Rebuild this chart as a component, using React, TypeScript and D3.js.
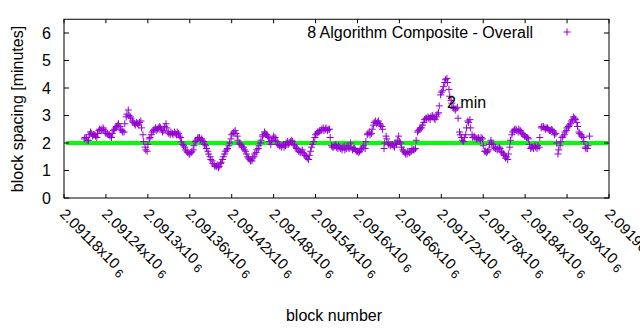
import React from "react";
import * as d3 from "d3";

const W = 640;
const H = 330;

const startBlock = 2091209;
const blockStep = 3;

// readings at blocks startBlock + 3*i
const spacing: number[] = [
  2.15, 2.2, 2.1, 2.4, 2.25, 2.3, 2.2, 2.45, 2.5, 2.55,
  2.4, 2.35, 2.3, 2.2, 2.45, 2.55, 2.65, 2.6, 2.45, 2.4,
  2.95, 3.2, 2.95, 2.8, 2.7, 2.75, 2.65, 2.8, 2.3, 1.85,
  1.7, 2.15, 2.3, 2.45, 2.55, 2.5, 2.6, 2.5, 2.45, 2.7,
  2.4, 2.3, 2.35, 2.4, 2.3, 2.35, 2.2, 1.95, 1.85, 1.7,
  1.6, 1.65, 1.75, 2.05, 2.15, 2.2, 2.15, 2.05, 1.9, 1.7,
  1.5, 1.35, 1.2, 1.15, 1.1, 1.25, 1.4, 1.6, 1.75, 1.9,
  2.15, 2.35, 2.45, 2.25, 2.0, 1.9, 1.85, 1.7, 1.5, 1.4,
  1.35, 1.5, 1.65, 1.8, 2.0, 2.25, 2.4, 2.3, 2.2, 1.95,
  2.15, 2.2, 2.05, 1.9, 1.85, 1.95, 1.9, 2.05, 2.0, 2.1,
  1.95, 1.85, 1.75, 1.65, 1.75, 1.6, 1.5, 1.4, 1.7, 1.95,
  2.2, 2.35, 2.4, 2.45, 2.55, 2.5, 2.45, 2.5, 1.9, 1.85,
  1.95, 1.8, 1.85, 1.75, 1.9, 1.8, 1.85, 2.0, 1.75, 1.8,
  1.7, 1.65, 1.75, 1.85, 1.8, 2.3, 2.4, 2.35, 2.65, 2.8,
  2.75, 2.7, 2.6, 1.8, 2.25, 2.0, 1.9, 1.95, 1.85, 1.95,
  2.25, 2.0, 1.75, 1.65, 1.6, 1.65, 1.7, 1.75, 1.8, 2.4,
  2.5, 2.55, 2.75, 2.9, 2.95, 2.85, 3.0, 2.9, 2.95, 3.1,
  3.75, 3.9, 4.2, 4.35, 3.95, 3.55, 3.3, 3.2, 3.3, 2.4,
  2.2, 2.05, 2.3, 2.8, 2.85, 2.3, 2.25, 2.15, 2.2, 2.1,
  2.15, 1.7, 1.65, 1.75, 2.1, 1.95, 1.8, 1.75, 1.85, 1.7,
  1.6, 1.45, 1.4, 1.85, 2.3, 2.45, 2.5, 2.4, 2.45, 2.35,
  2.25, 2.2, 2.15, 1.8, 1.85, 1.9, 1.8, 1.85, 2.55, 2.6,
  2.5, 2.55, 2.45, 2.5, 2.4, 2.35, 1.6, 1.9, 2.2, 2.3,
  2.45, 2.6, 2.7, 2.85, 2.9, 2.75, 2.4, 2.3, 2.2, 1.85,
  1.8, 2.25,
];

// readings at the in-between blocks startBlock + 1 + 3*i
const spacingMid: number[] = [
  2.2, 2.1, 2.3, 2.35, 2.3, 2.25, 2.35, 2.5, 2.45, 2.5,
  2.35, 2.3, 2.25, 2.35, 2.5, 2.6, 2.7, 2.5, 2.4, 2.7,
  3.05, 3.0, 2.9, 2.75, 2.65, 2.7, 2.75, 2.55, 2.05, 1.75,
  1.95, 2.2, 2.4, 2.5, 2.45, 2.55, 2.55, 2.4, 2.6, 2.55,
  2.35, 2.4, 2.3, 2.35, 2.4, 2.25, 2.05, 1.9, 1.75, 1.65,
  1.6, 1.7, 1.9, 2.1, 2.2, 2.1, 2.1, 1.95, 1.8, 1.6,
  1.4, 1.25, 1.15, 1.2, 1.15, 1.3, 1.5, 1.7, 1.8, 2.0,
  2.3, 2.4, 2.35, 2.1, 1.95, 1.85, 1.75, 1.6, 1.45, 1.35,
  1.45, 1.6, 1.75, 1.9, 2.1, 2.3, 2.35, 2.25, 2.05, 2.1,
  2.25, 2.1, 1.95, 1.9, 1.9, 1.85, 2.0, 1.95, 2.05, 2.05,
  1.9, 1.8, 1.7, 1.7, 1.65, 1.55, 1.45, 1.55, 1.85, 2.05,
  2.3, 2.4, 2.45, 2.5, 2.45, 2.55, 2.5, 2.2, 1.85, 1.9,
  1.85, 1.9, 1.8, 1.85, 1.75, 1.9, 1.8, 1.85, 1.8, 1.75,
  1.7, 1.7, 1.8, 1.9, 2.05, 2.35, 2.3, 2.5, 2.75, 2.7,
  2.8, 2.65, 2.5, 2.0, 2.15, 1.95, 1.95, 1.9, 2.0, 2.1,
  2.05, 1.85, 1.7, 1.6, 1.7, 1.65, 1.8, 1.75, 2.1, 2.45,
  2.55, 2.65, 2.85, 2.9, 2.9, 2.95, 2.95, 2.85, 3.05, 3.35,
  3.85, 4.05, 4.3, 4.2, 3.7, 3.45, 3.25, 3.25, 2.9, 2.3,
  2.1, 2.2, 2.55, 2.75, 2.55, 2.2, 2.2, 2.15, 2.15, 2.2,
  1.9, 1.7, 1.7, 1.95, 2.0, 1.85, 1.8, 1.8, 1.8, 1.65,
  1.55, 1.5, 1.6, 2.1, 2.4, 2.5, 2.45, 2.5, 2.4, 2.3,
  2.25, 2.2, 1.95, 1.85, 1.8, 1.85, 1.9, 2.2, 2.6, 2.55,
  2.55, 2.5, 2.45, 2.45, 2.3, 2.0, 1.75, 2.05, 2.25, 2.4,
  2.55, 2.65, 2.8, 2.95, 2.85, 2.6, 2.35, 2.25, 2.05, 1.8,
  1.9,
];

const xTickValues: number[] = [
  2091180, 2091240, 2091300, 2091360, 2091420, 2091480, 2091540,
  2091600, 2091660, 2091720, 2091780, 2091840, 2091900, 2091960,
];
const xTickLabels: string[] = [
  "2.09118", "2.09124", "2.0913", "2.09136", "2.09142", "2.09148", "2.09154",
  "2.0916", "2.09166", "2.09172", "2.09178", "2.09184", "2.0919", "2.09196",
];
const yTickValues: number[] = [0, 1, 2, 3, 4, 5, 6];
const targetLine = 2;
const seriesName = "8 Algorithm Composite - Overall";
const annotation = "2 min";

const FONT = "'Liberation Sans', Arial, sans-serif";
const PURPLE = "#9400d3";

export default function App() {
  const left = 64;
  const right = 609;
  const top = 19.25;
  const bottom = 198;

  const x = d3.scaleLinear().domain([2091180, 2091960]).range([left, right]);
  const y = d3.scaleLinear().domain([0, 6.5]).range([bottom, top]);

  const pts = [
    ...spacing.map((v, i) => ({ b: startBlock + i * blockStep, v })),
    ...spacingMid.map((v, i) => ({ b: startBlock + 1 + i * blockStep, v })),
  ];
  const plus = "M-3.5,0H3.5M0,-3.5V3.5";

  return (
    <svg
      width={W}
      height={H}
      style={{ position: "absolute", left: 0, top: 0, background: "#fff" }}
      fontFamily={FONT}
    >
      <rect x={0} y={0} width={W} height={H} fill="#fff" />
      {/* target line */}
      <line
        x1={x(2091180) + 2}
        x2={x(2091960) - 1}
        y1={y(targetLine)}
        y2={y(targetLine)}
        stroke="#00ff00"
        strokeWidth={4}
      />
      {/* points */}
      <g stroke={PURPLE} strokeWidth={1} fill="none">
        {pts.map((p, i) => (
          <path key={i} d={plus} transform={`translate(${x(p.b)},${y(p.v)})`} />
        ))}
      </g>
      {/* border */}
      <rect
        x={left}
        y={top}
        width={right - left}
        height={bottom - top}
        fill="none"
        stroke="#000"
        strokeWidth={1}
      />
      {/* y ticks */}
      {yTickValues.map((t) => (
        <g key={"y" + t}>
          <line x1={left} x2={left + 5} y1={y(t)} y2={y(t)} stroke="#000" />
          <line x1={right} x2={right - 5} y1={y(t)} y2={y(t)} stroke="#000" />
          <text x={51} y={y(t) + 5.5} textAnchor="end" fontSize={16} fill="#000">
            {t}
          </text>
        </g>
      ))}
      {/* x ticks */}
      {xTickValues.map((t, i) => (
        <g key={"x" + t}>
          <line x1={x(t)} x2={x(t)} y1={bottom} y2={bottom - 4} stroke="#000" />
          <line x1={x(t)} x2={x(t)} y1={top} y2={top + 4} stroke="#000" />
          <text
            transform={`translate(${x(t) - 5},${215}) rotate(45)`}
            fontSize={15}
            fill="#000"
          >
            {xTickLabels[i]}x10
            <tspan fontSize={12} dx={3} dy={3}>
              6
            </tspan>
          </text>
        </g>
      ))}
      {/* axis labels */}
      <text
        transform={`translate(23,109) rotate(-90)`}
        textAnchor="middle"
        fontSize={16}
        fill="#000"
      >
        block spacing [minutes]
      </text>
      <text x={334} y={321} textAnchor="middle" fontSize={16} fill="#000">
        block number
      </text>
      {/* legend */}
      <text x={533} y={37.5} textAnchor="end" fontSize={16} fill="#000">
        {seriesName}
      </text>
      <path d={plus} transform="translate(567,32)" stroke={PURPLE} fill="none" />
      {/* annotation */}
      <text x={447} y={107.5} fontSize={16} fill="#000">
        {annotation}
      </text>
    </svg>
  );
}
